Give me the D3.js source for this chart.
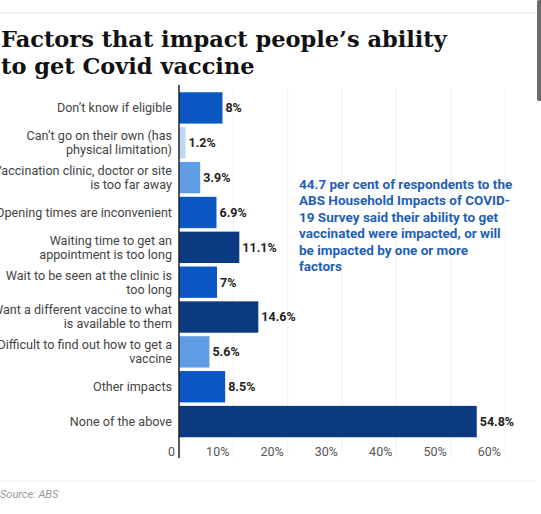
<!DOCTYPE html>
<html>
<head>
<meta charset="utf-8">
<script src="https://cdn.jsdelivr.net/npm/d3@7"></script>
<style>
  html, body { margin: 0; padding: 0; background: #fff; overflow: hidden; }
  svg { display: block; }
</style>
</head>
<body>
<div id="chart"></div>
<script>
// data
var categories = [
  'Don\u2019t know if eligible',
  'Can\u2019t go on their own (has\nphysical limitation)',
  'Vaccination clinic, doctor or site\nis too far away',
  'Opening times are inconvenient',
  'Waiting time to get an\nappointment is too long',
  'Wait to be seen at the clinic is\ntoo long',
  'Want a different vaccine to what\nis available to them',
  'Difficult to find out how to get a\nvaccine',
  'Other impacts',
  'None of the above'
]
var values = [8, 1.2, 3.9, 6.9, 11.1, 7, 14.6, 5.6, 8.5, 54.8]
var valueLabels = ['8%', '1.2%', '3.9%', '6.9%', '11.1%', '7%', '14.6%', '5.6%', '8.5%', '54.8%']
var ticks = [0, 10, 20, 30, 40, 50, 60]
var tickLabels = ['0', '10%', '20%', '30%', '40%', '50%', '60%']
var titleLines = ['Factors that impact people\u2019s ability', 'to get Covid vaccine']
var noteLines = [
  '44.7 per cent of respondents to the',
  'ABS Household Impacts of COVID-',
  '19 Survey said their ability to get',
  'vaccinated were impacted, or will',
  'be impacted by one or more',
  'factors'
]
var source = 'Source: ABS'

/**
 * 常量
 */
var width = 541
var height = 514
var axisX = 179

var svg = d3.select('#chart')
  .append('svg')
  .attr('width', width)
  .attr('height', height)

/**
 * 比例尺
 */
var x = d3.scaleLinear()
  .domain([0, 60])
  .range([axisX, 505])

var y = d3.scaleBand()
  .domain(categories)
  .range([90.5, 439])
  .paddingInner(0.1)
  .paddingOuter(0.05)

var color = d3.scaleThreshold()
  .domain([2, 6, 10])
  .range(['#bfd7f6', '#5f9ce6', '#0b58c4', '#0b3a80'])

// top / bottom rules
svg.append('line')
  .attr('x1', 0).attr('x2', 536)
  .attr('y1', 13).attr('y2', 13)
  .attr('stroke', '#e8e8e8')
svg.append('line')
  .attr('x1', 0).attr('x2', 536)
  .attr('y1', 481).attr('y2', 481)
  .attr('stroke', '#ececec')

// scrollbar strip on the right
svg.append('rect')
  .attr('x', 537).attr('y', 0)
  .attr('width', 6).attr('height', 101)
  .attr('rx', 2)
  .attr('fill', '#6b6b6b')

/**
 * 标题
 */
var title = svg.append('text')
  .attr('font-family', '"DejaVu Serif", serif')
  .attr('font-weight', 'bold')
  .attr('font-size', 24)
  .attr('fill', '#111')
title.selectAll('tspan')
  .data(titleLines)
  .enter()
  .append('tspan')
  .attr('x', 1)
  .attr('y', (d, i) => 46.5 + i * 27.5)
  .text(d => d)

// fit first title line to ~447px
var w0 = title.select('tspan').node().getComputedTextLength()
title.attr('font-size', 24 * 446 / w0)

/**
 * 网格线
 */
svg.append('g')
  .selectAll('line')
  .data(ticks.slice(1))
  .enter()
  .append('line')
  .attr('x1', d => x(d)).attr('x2', d => x(d))
  .attr('y1', 88).attr('y2', 457)
  .attr('stroke', '#f1f1f1')

/**
 * 柱子
 */
var rows = svg.append('g')
  .selectAll('g')
  .data(categories)
  .enter()
  .append('g')

rows.append('rect')
  .attr('x', x(0))
  .attr('y', d => y(d))
  .attr('width', (d, i) => x(values[i]) - x(0))
  .attr('height', y.bandwidth())
  .attr('fill', (d, i) => color(values[i]))

// value labels
rows.append('text')
  .attr('x', (d, i) => x(values[i]) + 3)
  .attr('y', d => y(d) + y.bandwidth() / 2)
  .attr('dy', '0.35em')
  .attr('font-family', 'Roboto, sans-serif')
  .attr('font-weight', 'bold')
  .attr('font-size', 12.5)
  .attr('fill', '#222')
  .text((d, i) => valueLabels[i])

// category labels
rows.append('text')
  .attr('font-family', 'Roboto, sans-serif')
  .attr('font-size', 12.6)
  .attr('fill', '#444')
  .attr('text-anchor', 'end')
  .each(function (d) {
    var lines = d.split('\n')
    var cy = y(d) + y.bandwidth() / 2
    var start = cy - (lines.length - 1) * 14 / 2
    d3.select(this).selectAll('tspan')
      .data(lines)
      .enter()
      .append('tspan')
      .attr('x', 172)
      .attr('y', (l, i) => start + i * 14)
      .attr('dy', '0.35em')
      .text(l => l)
  })

/**
 * 坐标轴
 */
svg.append('line')
  .attr('x1', axisX).attr('x2', axisX)
  .attr('y1', 85).attr('y2', 458)
  .attr('stroke', '#222')
  .attr('stroke-width', 1.5)

svg.append('g')
  .selectAll('text')
  .data(ticks)
  .enter()
  .append('text')
  .attr('x', d => x(d) - 4)
  .attr('y', 452)
  .attr('dy', '0.35em')
  .attr('text-anchor', 'end')
  .attr('font-family', 'Roboto, sans-serif')
  .attr('font-size', 12.5)
  .attr('fill', '#555')
  .text((d, i) => tickLabels[i])

/**
 * 注释文字
 */
svg.append('text')
  .attr('font-family', 'Roboto, sans-serif')
  .attr('font-weight', 'bold')
  .attr('font-size', 13.5)
  .attr('fill', '#1f5fb6')
  .selectAll('tspan')
  .data(noteLines)
  .enter()
  .append('tspan')
  .attr('x', 299)
  .attr('y', (d, i) => 189 + i * 16.4)
  .text(d => d)

// source
svg.append('text')
  .attr('x', 0)
  .attr('y', 498)
  .attr('font-family', 'Roboto, sans-serif')
  .attr('font-style', 'italic')
  .attr('font-size', 11)
  .attr('fill', '#9a9a9a')
  .text(source)
</script>
</body>
</html>
